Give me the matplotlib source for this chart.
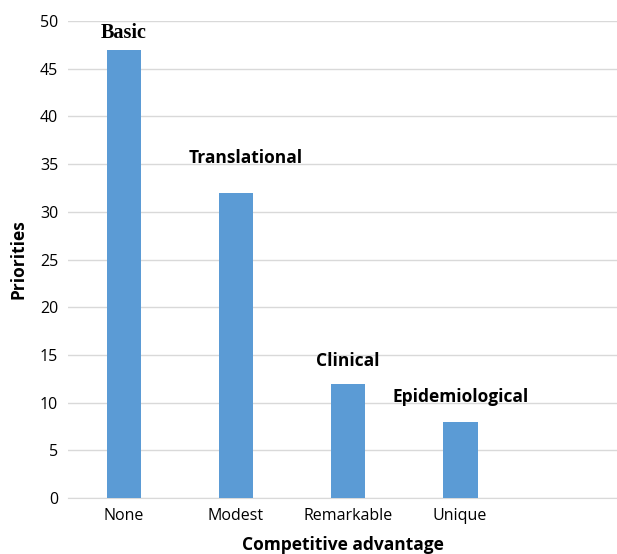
import matplotlib.pyplot as plt

# Priorities by competitive advantage
categories = ['None', 'Modest', 'Remarkable', 'Unique', '']
priorities = [47, 32, 12, 8, 0]
group_labels = ['Basic', 'Translational', 'Clinical', 'Epidemiological']
label_y = [48.7, 35.6, 14.4, 10.6]
label_x_shift = [0, 0.09, 0, 0]

plt.rcParams['font.family'] = ['Open Sans', 'DejaVu Sans']

fig = plt.figure(figsize=(6.17, 5.54), dpi=100)
ax = fig.add_axes([68 / 617, 56 / 554, 549 / 617, 477 / 554])

x = list(range(len(categories)))
ax.bar(x[:4], priorities[:4], width=0.31, color='#5b9bd5', zorder=3)

ax.set_xlim(-0.5, 4.4)
ax.set_ylim(0, 50)
ax.set_yticks(range(0, 51, 5))
ax.set_xticks(x[:4])
ax.set_xticklabels(categories[:4], fontsize=11.5)
ax.tick_params(axis='y', labelsize=11.5, length=0, pad=7)
ax.tick_params(axis='x', length=0, pad=7)
ax.grid(axis='y', color='#d9d9d9', linewidth=1, zorder=0)
for side in ['top', 'right', 'left']:
    ax.spines[side].set_visible(False)
ax.spines['bottom'].set_color('#d9d9d9')

for i, (name, yv) in enumerate(zip(group_labels, label_y)):
    if name == 'Basic':
        ax.text(i, yv, name, ha='center', va='center', fontsize=14.5,
                fontweight='bold', family='Liberation Serif')
    else:
        ax.text(i + label_x_shift[i], yv, name, ha='center', va='center',
                fontsize=12.5, fontweight='bold')

ax.set_xlabel('Competitive advantage', fontsize=12.5, fontweight='bold', labelpad=9)
ax.set_ylabel('Priorities', fontsize=12.5, fontweight='bold', labelpad=9)

fig.savefig('out.png', dpi=100)
